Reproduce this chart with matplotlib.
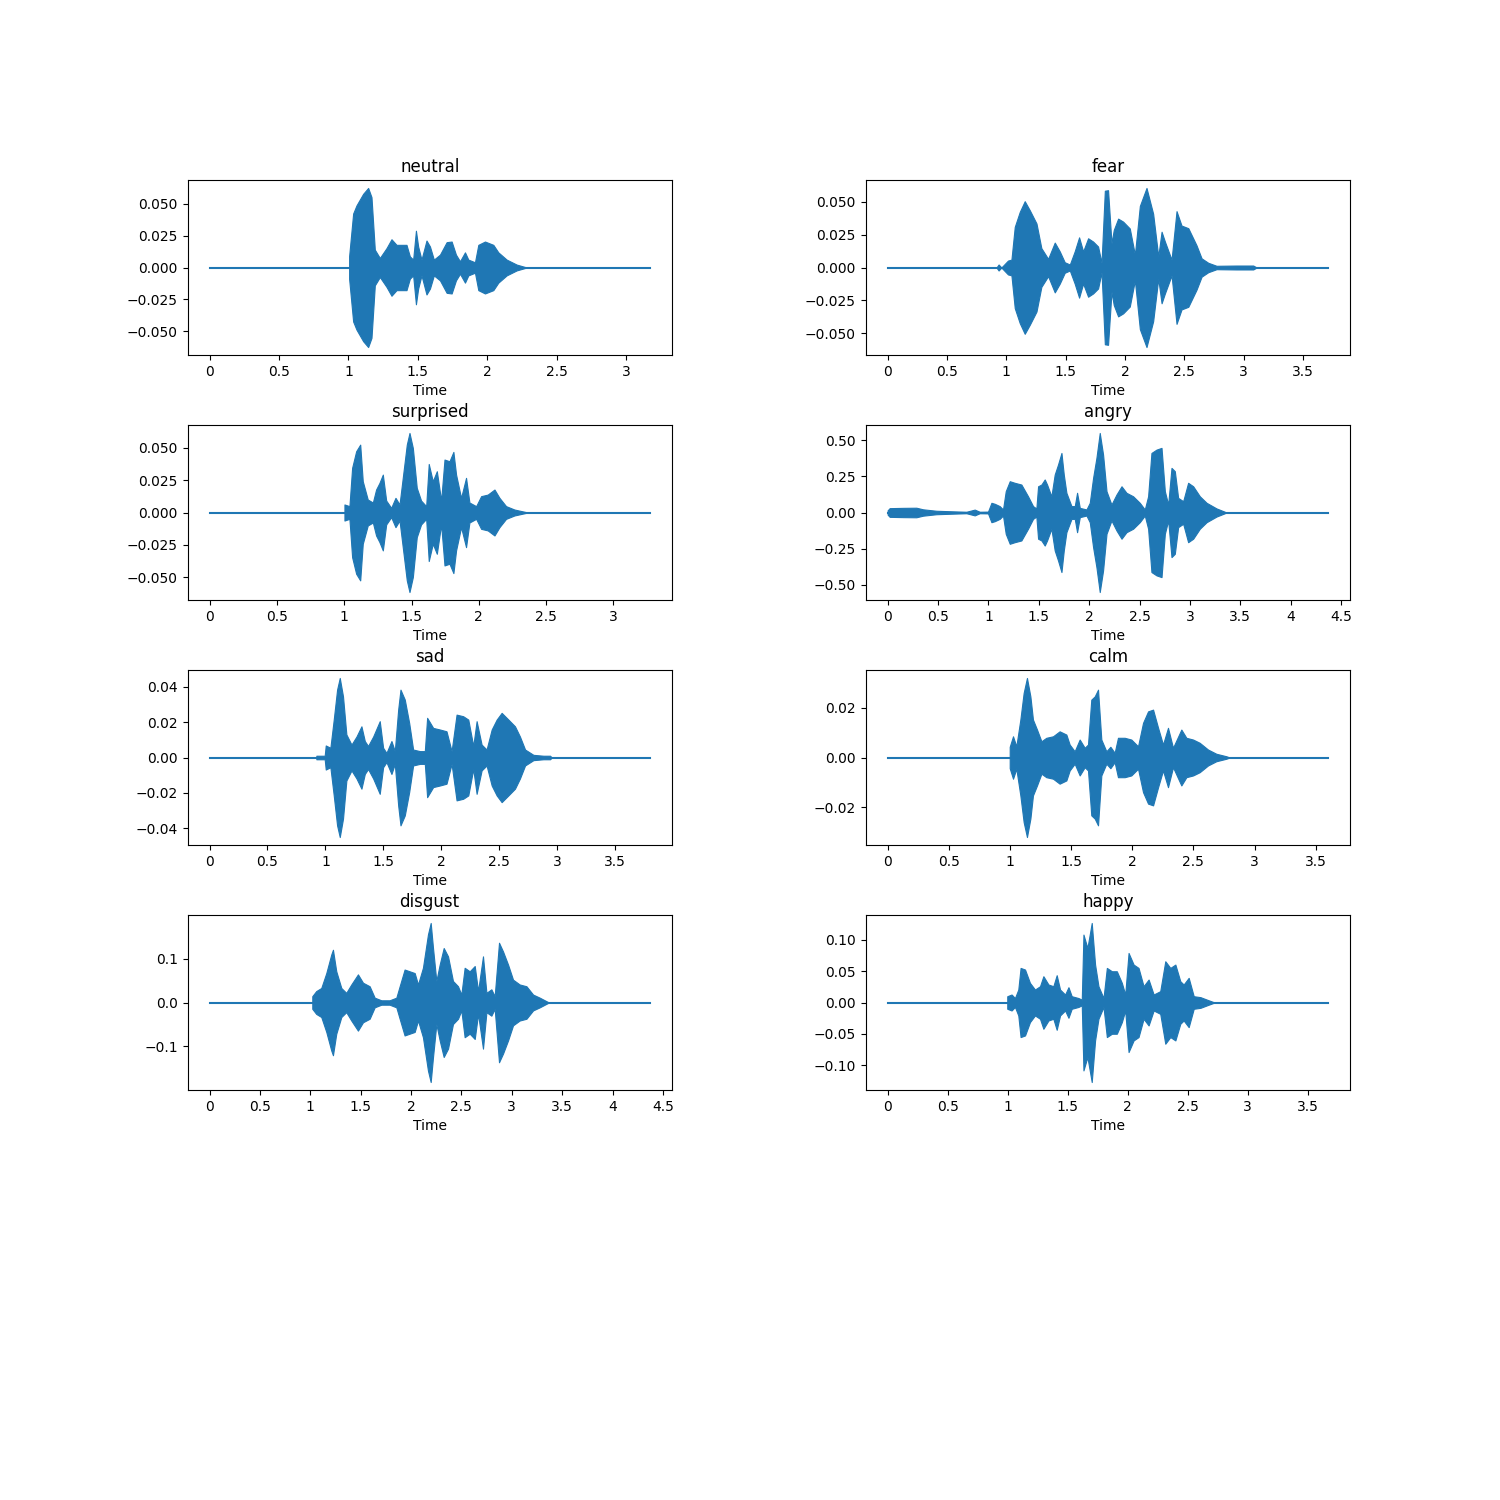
import matplotlib
matplotlib.use("Agg")
import numpy as np
import matplotlib.pyplot as plt
from matplotlib import ticker

# emotion order as laid out (row by row, left then right)
emotions = ['neutral', 'fear', 'surprised', 'angry', 'sad', 'calm', 'disgust', 'happy']

# clip lengths in seconds
durations = [3.17, 3.71, 3.27, 4.37, 3.80, 3.60, 4.37, 3.67]

# amplitude envelopes (time in s, peak amplitude)
neutral_t = [1.005, 1.034, 1.058, 1.106, 1.142, 1.166, 1.190, 1.226, 1.274, 1.310, 1.346, 1.382,
             1.418, 1.442, 1.466, 1.486, 1.502, 1.526, 1.562, 1.587, 1.615, 1.659, 1.707, 1.743,
             1.774, 1.803, 1.839, 1.863, 1.911, 1.935, 1.983, 2.043, 2.079, 2.139, 2.211, 2.284]
neutral_amp = [0.0088, 0.0424, 0.0488, 0.0579, 0.0625, 0.0553, 0.014, 0.0075, 0.0152, 0.0222,
               0.0178, 0.0178, 0.0178, 0.0088, 0.0062, 0.0289, 0.0165, 0.0062, 0.0212, 0.0165,
               0.0062, 0.0101, 0.0199, 0.0204, 0.0101, 0.0049, 0.0119, 0.0062, 0.0041, 0.0178,
               0.0204, 0.0178, 0.0119, 0.0062, 0.0023, 0.0]

fear_t = [0.917, 0.935, 0.958, 1.014, 1.043, 1.071, 1.113, 1.155, 1.198, 1.254, 1.295, 1.352,
          1.408, 1.450, 1.492, 1.535, 1.576, 1.613, 1.647, 1.689, 1.731, 1.773, 1.802, 1.830,
          1.857, 1.886, 1.905, 1.942, 1.984, 2.040, 2.083, 2.125, 2.181, 2.237, 2.280, 2.308,
          2.336, 2.392, 2.434, 2.476, 2.533, 2.602, 2.645, 2.701, 2.771, 2.939, 3.080, 3.109]
fear_amp = [0.0, 0.0023, 0.0, 0.0053, 0.006, 0.031, 0.0424, 0.0506, 0.0436, 0.0336, 0.0148,
            0.0066, 0.019, 0.0123, 0.004, 0.0023, 0.0123, 0.023, 0.0123, 0.0223, 0.0198, 0.016,
            0.0036, 0.0586, 0.059, 0.0185, 0.0286, 0.0373, 0.035, 0.0298, 0.0098, 0.047, 0.0607,
            0.041, 0.0085, 0.0273, 0.0198, 0.006, 0.043, 0.032, 0.030, 0.017, 0.007, 0.0036,
            0.0013, 0.0015, 0.0015, 0.0]

surprised_t = [1.002, 1.039, 1.059, 1.089, 1.119, 1.138, 1.175, 1.213, 1.237, 1.262, 1.287, 1.312,
               1.349, 1.381, 1.411, 1.435, 1.465, 1.485, 1.510, 1.539, 1.571, 1.609, 1.628, 1.658,
               1.688, 1.720, 1.745, 1.782, 1.811, 1.831, 1.868, 1.905, 1.930, 1.980, 2.017, 2.066,
               2.116, 2.153, 2.202, 2.264, 2.351]
surprised_amp = [0.0062, 0.0049, 0.0344, 0.0472, 0.0523, 0.0241, 0.01, 0.0077, 0.0177, 0.0228,
                 0.0292, 0.0092, 0.0036, 0.0113, 0.0062, 0.0267, 0.0523, 0.0613, 0.0497, 0.019,
                 0.0092, 0.0049, 0.0374, 0.0241, 0.0318, 0.0092, 0.0408, 0.0395, 0.0467, 0.0292,
                 0.0113, 0.0267, 0.0077, 0.0049, 0.0126, 0.0138, 0.0177, 0.0113, 0.0049, 0.0023,
                 0.0003]

angry_t = [0.0, 0.02, 0.152, 0.285, 0.351, 0.483, 0.649, 0.781, 0.864, 0.914, 0.996, 1.030,
           1.063, 1.112, 1.145, 1.172, 1.212, 1.261, 1.327, 1.393, 1.443, 1.476, 1.493, 1.526,
           1.559, 1.582, 1.625, 1.658, 1.691, 1.725, 1.748, 1.774, 1.824, 1.857, 1.880, 1.907,
           1.973, 2.006, 2.039, 2.072, 2.105, 2.138, 2.172, 2.221, 2.271, 2.321, 2.370, 2.436,
           2.502, 2.552, 2.585, 2.618, 2.668, 2.718, 2.751, 2.784, 2.817, 2.850, 2.883, 2.933,
           2.982, 3.032, 3.098, 3.165, 3.264, 3.347]
angry_amp = [0.015, 0.03, 0.032, 0.033, 0.022, 0.012, 0.008, 0.005, 0.02, 0.005, 0.006, 0.067,
             0.06, 0.044, 0.021, 0.147, 0.216, 0.205, 0.193, 0.112, 0.044, 0.028, 0.181, 0.193,
             0.228, 0.193, 0.112, 0.262, 0.331, 0.411, 0.262, 0.136, 0.044, 0.044, 0.136, 0.032,
             0.021, 0.067, 0.239, 0.377, 0.549, 0.40, 0.147, 0.055, 0.124, 0.181, 0.136, 0.112,
             0.067, 0.021, 0.112, 0.411, 0.434, 0.446, 0.147, 0.055, 0.308, 0.285, 0.101, 0.078,
             0.205, 0.181, 0.112, 0.067, 0.028, 0.005]

sad_t = [0.922, 0.994, 1.003, 1.043, 1.072, 1.101, 1.124, 1.152, 1.181, 1.225, 1.268, 1.311,
         1.340, 1.368, 1.412, 1.469, 1.498, 1.527, 1.570, 1.599, 1.628, 1.648, 1.685, 1.723,
         1.757, 1.815, 1.858, 1.878, 1.930, 1.988, 2.045, 2.089, 2.132, 2.189, 2.233, 2.276,
         2.305, 2.348, 2.391, 2.435, 2.478, 2.521, 2.579, 2.636, 2.679, 2.723, 2.795, 2.881,
         2.939, 2.953]
sad_amp = [0.001, 0.001, 0.0068, 0.0055, 0.0214, 0.0383, 0.0449, 0.0345, 0.013, 0.0073, 0.0118,
           0.0176, 0.0093, 0.0065, 0.0118, 0.0205, 0.0055, 0.0026, 0.0093, 0.0036, 0.027, 0.0383,
           0.0327, 0.0195, 0.0045, 0.0036, 0.0036, 0.0224, 0.0167, 0.0158, 0.0148, 0.0036,
           0.0242, 0.0233, 0.0214, 0.0065, 0.0205, 0.0073, 0.0045, 0.0158, 0.0214, 0.0252,
           0.0214, 0.0176, 0.0118, 0.0045, 0.0015, 0.001, 0.001, 0.0]

calm_t = [0.998, 1.025, 1.052, 1.085, 1.112, 1.139, 1.167, 1.188, 1.221, 1.257, 1.297, 1.352,
          1.406, 1.461, 1.488, 1.529, 1.570, 1.611, 1.638, 1.665, 1.693, 1.720, 1.747, 1.788,
          1.821, 1.856, 1.883, 1.938, 1.992, 2.047, 2.088, 2.129, 2.170, 2.211, 2.251, 2.292,
          2.333, 2.401, 2.442, 2.497, 2.551, 2.619, 2.687, 2.769, 2.796]
calm_amp = [0.0043, 0.0085, 0.0045, 0.0152, 0.0259, 0.0319, 0.0245, 0.0152, 0.0112, 0.0065,
            0.0079, 0.0085, 0.0105, 0.0092, 0.0052, 0.0025, 0.0072, 0.0039, 0.0052, 0.0232,
            0.0245, 0.0272, 0.0072, 0.0025, 0.0043, 0.0019, 0.0079, 0.0079, 0.0072, 0.0045,
            0.0139, 0.0185, 0.0192, 0.0119, 0.0052, 0.0119, 0.0039, 0.0112, 0.0079, 0.0072,
            0.0059, 0.0032, 0.0015, 0.0005, 0.0]

disgust_t = [1.020, 1.059, 1.109, 1.159, 1.208, 1.225, 1.258, 1.308, 1.357, 1.407, 1.473, 1.523,
             1.589, 1.639, 1.705, 1.787, 1.854, 1.887, 1.936, 1.986, 2.036, 2.069, 2.118, 2.168,
             2.195, 2.218, 2.251, 2.284, 2.324, 2.367, 2.416, 2.466, 2.499, 2.532, 2.582, 2.632,
             2.665, 2.714, 2.748, 2.797, 2.830, 2.873, 2.913, 2.963, 3.012, 3.078, 3.145, 3.211,
             3.277, 3.360]
disgust_amp = [0.0144, 0.026, 0.033, 0.067, 0.109, 0.12, 0.071, 0.033, 0.022, 0.041, 0.064,
               0.045, 0.037, 0.011, 0.005, 0.005, 0.011, 0.037, 0.075, 0.071, 0.067, 0.041,
               0.079, 0.155, 0.181, 0.124, 0.049, 0.086, 0.124, 0.105, 0.049, 0.037, 0.018,
               0.079, 0.071, 0.083, 0.026, 0.105, 0.022, 0.03, 0.0144, 0.136, 0.116, 0.086,
               0.052, 0.041, 0.037, 0.018, 0.011, 0.001]

happy_t = [0.997, 1.033, 1.061, 1.089, 1.108, 1.145, 1.186, 1.228, 1.270, 1.298, 1.340, 1.381,
           1.409, 1.437, 1.479, 1.507, 1.534, 1.590, 1.618, 1.632, 1.665, 1.701, 1.729, 1.757,
           1.799, 1.827, 1.869, 1.910, 1.952, 1.980, 2.008, 2.050, 2.091, 2.133, 2.175, 2.217,
           2.272, 2.314, 2.356, 2.398, 2.439, 2.467, 2.509, 2.551, 2.607, 2.662, 2.718]
happy_amp = [0.010, 0.0127, 0.0071, 0.0206, 0.055, 0.0524, 0.0312, 0.0206, 0.0259, 0.0418,
             0.0286, 0.0259, 0.0434, 0.0206, 0.0127, 0.0243, 0.010, 0.0071, 0.0045, 0.108,
             0.0868, 0.1265, 0.0603, 0.0259, 0.0071, 0.055, 0.0497, 0.0497, 0.0312, 0.0127,
             0.0788, 0.0603, 0.055, 0.0259, 0.0365, 0.0127, 0.018, 0.0656, 0.055, 0.0603,
             0.0339, 0.0286, 0.0392, 0.010, 0.0085, 0.0045, 0.0005]

env_t = [neutral_t, fear_t, surprised_t, angry_t, sad_t, calm_t, disgust_t, happy_t]
env_amp = [neutral_amp, fear_amp, surprised_amp, angry_amp, sad_amp, calm_amp, disgust_amp, happy_amp]

color = '#1f77b4'

fig = plt.figure(figsize=(15, 15))

for i, name in enumerate(emotions):
    ax = fig.add_subplot(5, 2, i + 1)
    t = np.array(env_t[i])
    a = np.array(env_amp[i])
    # flat signal across the whole clip
    ax.plot([0, durations[i]], [0, 0], color=color, lw=1.5)
    ax.fill_between(t, -a, a, color=color, lw=0.8, edgecolor=color)
    ax.set_title(name)
    ax.set_xlabel('Time')
    ax.xaxis.set_major_locator(ticker.MultipleLocator(0.5))
    ax.xaxis.set_major_formatter(ticker.FormatStrFormatter('%g'))

plt.subplots_adjust(hspace=0.4, wspace=0.4)
plt.savefig('out.png', dpi=100)
